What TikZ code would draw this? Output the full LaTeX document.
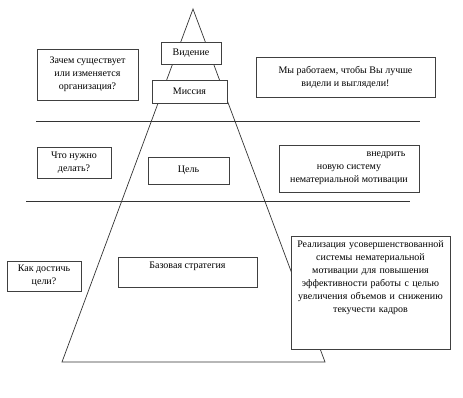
\documentclass[tikz,border=0pt]{standalone}
\usepackage{fontspec}
\setmainfont{Liberation Serif}
\usetikzlibrary{positioning}
\tikzset{
  lvl/.style={draw=black!75,fill=white,align=center,inner sep=2pt,
              font=\fontsize{10}{13}\selectfont},
  qbox/.style={lvl},
  tbox/.style={lvl},
  sep/.style={draw=black!80,line width=0.7pt},
  pyr/.style={draw=black!80,line width=0.7pt},
}

\begin{document}
\begin{tikzpicture}[x=1pt,y=-1pt]
  \useasboundingbox (0,0) rectangle (463,398);
  % pyramid and level separators
  \coordinate (top) at (193,9);
  \coordinate (bl) at (62,362);
  \coordinate (br) at (325,362);
  \draw[pyr] (bl) -- (top) -- (br) -- cycle;
  \coordinate (s1a) at (36,121);
  \coordinate (s1b) at (420,121);
  \coordinate (s2a) at (26,201);
  \coordinate (s2b) at (410,201);
  \draw[sep] (s1a) -- (s1b);
  \draw[sep] (s2a) -- (s2b);

  \node[lvl,minimum width=60pt,minimum height=22pt] (vision) at (191,53) {Видение};
  \node[lvl,minimum width=75pt,minimum height=23pt] (mission) at (189.5,91.5) {Миссия};
  \node[lvl,minimum width=81pt,minimum height=27pt] (goal) at (188.5,170.5) {Цель};
  \node[lvl,minimum width=139pt,minimum height=30pt,text depth=13pt] (strat)
       at (187.5,272) {Базовая стратегия};

  \node[qbox,minimum width=101pt,minimum height=51pt] (why) at (87.5,74.5)
       {Зачем существует\\или изменяется\\организация?};
  \node[qbox,minimum width=74pt,minimum height=31pt] (what) at (74,162.5)
       {Что нужно\\делать?};
  \node[qbox,minimum width=74pt,minimum height=30pt] (how) at (44,276)
       {Как достичь\\цели?};

  \node[tbox,minimum width=179pt,minimum height=40pt] (slogan) at (345.5,77)
       {Мы работаем, чтобы Вы лучше\\видели и выглядели!};
  \node[tbox,minimum width=140pt,minimum height=47pt] (aim) at (349,168.5)
       {\hspace*{74pt}внедрить\\новую систему\\нематериальной мотивации};
  \node[tbox,text width=155pt,inner ysep=4pt,anchor=north] (impl) at (370.5,236)
       {Реализация усовершенствованной\\системы нематериальной\\мотивации для повышения\\
        эффективности работы с целью\\увеличения объемов и снижению\\текучести кадров\rule[-33pt]{0pt}{33pt}};
\end{tikzpicture}
\end{document}
